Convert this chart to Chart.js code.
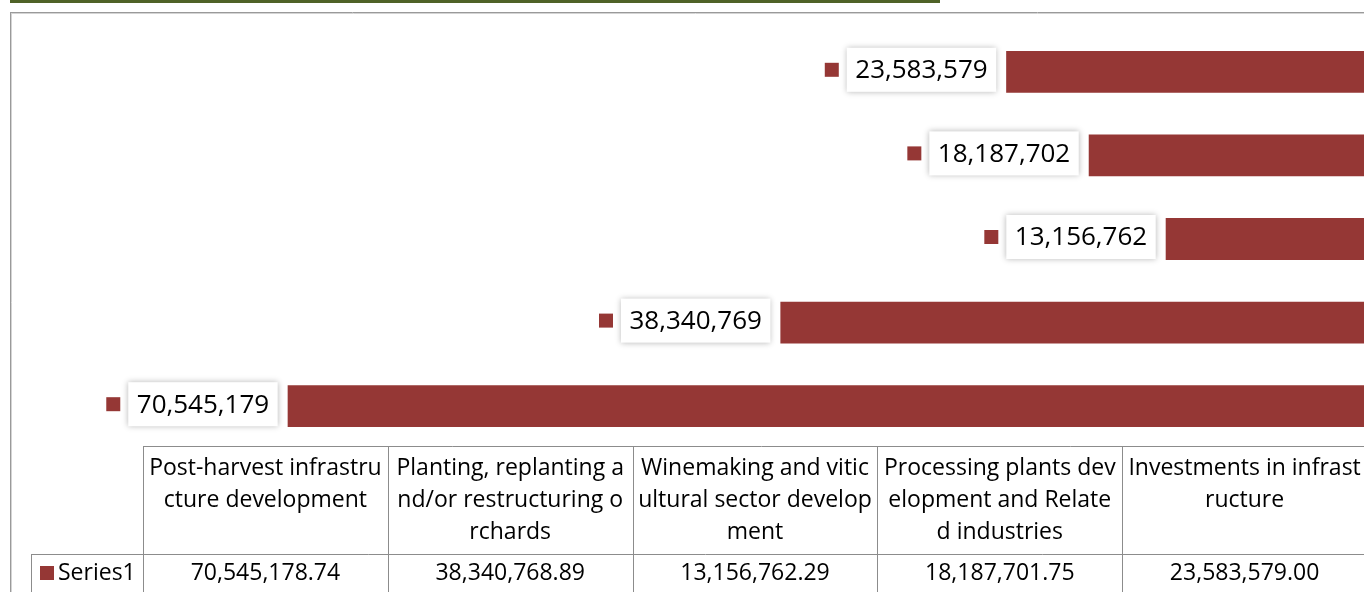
<!DOCTYPE html>
<html>
<head>
<meta charset="utf-8">
<script src="https://cdn.jsdelivr.net/npm/chart.js@4"></script>
<style>
  html, body { margin: 0; padding: 0; background: #fff; overflow: hidden; }
  #wrap { width: 1380px; height: 592px; }
</style>
</head>
<body>
<div id="wrap"><canvas id="barChart" width="1380" height="592"></canvas></div>
<script>
// category names, wrapped the way the data table shows them
var categories = [
  ['Post-harvest infrastru', 'cture development'],
  ['Planting, replanting a', 'nd/or restructuring o', 'rchards'],
  ['Winemaking and vitic', 'ultural sector develop', 'ment'],
  ['Processing plants dev', 'elopment and Relate', 'd industries'],
  ['Investments in infrast', 'ructure']
];
var seriesName = 'Series1';
var seriesValues = [70545178.74, 38340768.89, 13156762.29, 18187701.75, 23583579.00];
var axisMin = 0;
var axisMax = 80000000;

var barColor = '#953735';
var textFont = '"Open Sans", "Noto Sans", sans-serif';

function hline(ctx, x1, x2, y) {
  ctx.beginPath();
  ctx.moveTo(x1, Math.round(y) + 0.5);
  ctx.lineTo(x2, Math.round(y) + 0.5);
  ctx.stroke();
}
function vline(ctx, x, y1, y2) {
  ctx.beginPath();
  ctx.moveTo(Math.round(x) + 0.5, y1);
  ctx.lineTo(Math.round(x) + 0.5, y2);
  ctx.stroke();
}

var decorPlugin = {
  id: 'decor',
  beforeDraw: function(chart) {
    var ctx = chart.ctx;
    ctx.save();
    // green rule at the very top
    ctx.fillStyle = '#4f6228';
    ctx.fillRect(10, 0, 930, 3);
    // chart frame
    ctx.strokeStyle = '#d4d4d4';
    ctx.lineWidth = 1;
    vline(ctx, 11, 13, chart.height);
    hline(ctx, 11, chart.width, 13);
    ctx.strokeStyle = '#9a9a9a';
    vline(ctx, 10, 12, chart.height);
    hline(ctx, 10, chart.width, 12);
    ctx.restore();
  },
  afterDatasetsDraw: function(chart) {
    var ctx = chart.ctx;
    var meta = chart.getDatasetMeta(0);
    ctx.save();
    ctx.font = '26px ' + textFont;
    meta.data.forEach(function(bar, i) {
      var txt = Math.round(seriesValues[i]).toLocaleString('en-US');
      var w = ctx.measureText(txt).width + 17;
      var h = 44;
      var right = bar.x - 10;
      var left = right - w;
      var top = bar.y - 24;
      // label box with soft shadow
      ctx.save();
      ctx.shadowColor = 'rgba(0,0,0,0.28)';
      ctx.shadowBlur = 6;
      ctx.fillStyle = '#fff';
      ctx.fillRect(left, top, w, h);
      ctx.restore();
      ctx.fillStyle = '#000';
      ctx.textAlign = 'center';
      ctx.textBaseline = 'middle';
      ctx.fillText(txt, left + w / 2, top + h / 2 + 1);
      // legend key
      ctx.fillStyle = barColor;
      ctx.fillRect(left - 22, bar.y - 9, 14, 14);
    });
    ctx.restore();
  },
  afterDraw: function(chart) {
    var ctx = chart.ctx;
    var area = chart.chartArea;
    var n = categories.length;
    var colW = area.width / n;
    var top = area.bottom - 2;
    var rowTop = top + 108;
    ctx.save();
    ctx.strokeStyle = '#8c8c8c';
    ctx.lineWidth = 1;
    hline(ctx, area.left, chart.width, top);
    for (var i = 0; i <= n; i++) {
      vline(ctx, area.left + i * colW, top, chart.height);
    }
    hline(ctx, 31, chart.width, rowTop);
    vline(ctx, 31, rowTop, chart.height);

    ctx.font = '23px ' + textFont;
    ctx.fillStyle = '#000';
    ctx.textAlign = 'center';
    ctx.textBaseline = 'middle';
    categories.forEach(function(lines, c) {
      var cx = area.left + (c + 0.5) * colW;
      lines.forEach(function(line, k) {
        ctx.fillText(line, cx, top + 22 + k * 32);
      });
      var val = seriesValues[c].toLocaleString('en-US', {minimumFractionDigits: 2, maximumFractionDigits: 2});
      ctx.fillText(val, cx, rowTop + 19);
    });
    ctx.fillStyle = barColor;
    ctx.fillRect(40, rowTop + 12, 14, 14);
    ctx.fillStyle = '#000';
    ctx.textAlign = 'left';
    ctx.fillText(seriesName, 58, rowTop + 19);
    ctx.restore();
  }
};

var ctx = document.getElementById('barChart').getContext('2d');
new Chart(ctx, {
  type: 'bar',
  data: {
    labels: categories.map(function(l) { return l.join(''); }),
    datasets: [{
      label: seriesName,
      data: seriesValues,
      backgroundColor: barColor,
      borderWidth: 0,
      categoryPercentage: 1,
      barPercentage: 0.5
    }]
  },
  options: {
    indexAxis: 'y',
    responsive: false,
    animation: false,
    layout: { padding: { left: 143, right: 13, top: 30, bottom: 144 } },
    scales: {
      x: { display: false, reverse: true, min: axisMin, max: axisMax, grid: { display: false } },
      y: { display: false, reverse: true, grid: { display: false } }
    },
    plugins: {
      legend: { display: false },
      tooltip: { enabled: false }
    }
  },
  plugins: [decorPlugin]
});
</script>
</body>
</html>
